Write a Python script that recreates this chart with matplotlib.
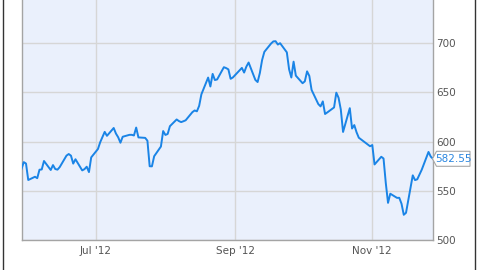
import matplotlib
matplotlib.use("Agg")
import matplotlib.pyplot as plt
import matplotlib.dates as mdates
import pandas as pd
from matplotlib.lines import Line2D
from matplotlib.patches import Polygon

# daily closes
dates = [
    "2012-05-29", "2012-05-30", "2012-05-31", "2012-06-01", "2012-06-04", "2012-06-05",
    "2012-06-06", "2012-06-07", "2012-06-08", "2012-06-11", "2012-06-12", "2012-06-13",
    "2012-06-14", "2012-06-15", "2012-06-18", "2012-06-19", "2012-06-20", "2012-06-21",
    "2012-06-22", "2012-06-25", "2012-06-26", "2012-06-27", "2012-06-28", "2012-06-29",
    "2012-07-02", "2012-07-03", "2012-07-05", "2012-07-06", "2012-07-09", "2012-07-10",
    "2012-07-11", "2012-07-12", "2012-07-13", "2012-07-16", "2012-07-17", "2012-07-18",
    "2012-07-19", "2012-07-20", "2012-07-23", "2012-07-24", "2012-07-25", "2012-07-26",
    "2012-07-27", "2012-07-30", "2012-07-31", "2012-08-01", "2012-08-02", "2012-08-03",
    "2012-08-06", "2012-08-07", "2012-08-08", "2012-08-09", "2012-08-10", "2012-08-13",
    "2012-08-14", "2012-08-15", "2012-08-16", "2012-08-17", "2012-08-20", "2012-08-21",
    "2012-08-22", "2012-08-23", "2012-08-24", "2012-08-27", "2012-08-28", "2012-08-29",
    "2012-08-30", "2012-08-31", "2012-09-04", "2012-09-05", "2012-09-06", "2012-09-07",
    "2012-09-10", "2012-09-11", "2012-09-12", "2012-09-13", "2012-09-14", "2012-09-17",
    "2012-09-18", "2012-09-19", "2012-09-20", "2012-09-21", "2012-09-24", "2012-09-25",
    "2012-09-26", "2012-09-27", "2012-09-28", "2012-10-01", "2012-10-02", "2012-10-03",
    "2012-10-04", "2012-10-05", "2012-10-08", "2012-10-09", "2012-10-10", "2012-10-11",
    "2012-10-12", "2012-10-15", "2012-10-16", "2012-10-17", "2012-10-18", "2012-10-19",
    "2012-10-22", "2012-10-23", "2012-10-24", "2012-10-25", "2012-10-26", "2012-10-31",
    "2012-11-01", "2012-11-02", "2012-11-05", "2012-11-06", "2012-11-07", "2012-11-08",
    "2012-11-09", "2012-11-12", "2012-11-13", "2012-11-14", "2012-11-15", "2012-11-16",
    "2012-11-19", "2012-11-20", "2012-11-21", "2012-11-23", "2012-11-26", "2012-11-27",
    "2012-11-28",
]
closes = [
    572.27, 579.17, 577.73, 560.99, 564.29, 562.83,
    571.46, 571.72, 580.32, 571.17, 576.16, 572.16,
    571.53, 574.13, 585.78, 587.41, 585.74, 577.67,
    582.10, 570.77, 572.02, 574.50, 569.05, 584.00,
    592.52, 599.41, 609.94, 605.88, 613.89, 608.21,
    604.43, 598.90, 604.97, 606.91, 606.94, 606.26,
    614.32, 604.30, 603.83, 600.92, 574.97, 574.88,
    585.16, 595.03, 610.76, 606.81, 607.79, 615.70,
    622.55, 620.91, 619.86, 620.73, 621.70, 630.00,
    631.69, 630.83, 636.34, 648.11, 665.15, 656.06,
    668.87, 662.63, 663.22, 675.68, 674.80, 673.47,
    663.87, 665.24, 674.97, 670.23, 676.27, 680.44,
    662.74, 660.59, 669.79, 682.98, 691.28, 699.78,
    701.91, 702.10, 698.70, 700.09, 690.79, 673.54,
    665.18, 681.32, 667.10, 659.39, 661.31, 671.45,
    666.80, 652.59, 638.17, 635.85, 640.91, 628.10,
    629.71, 634.76, 649.79, 644.61, 632.64, 609.84,
    634.03, 613.36, 616.83, 609.54, 604.00, 595.32,
    596.54, 576.80, 584.62, 582.85, 558.00, 537.75,
    547.06, 542.83, 542.90, 536.88, 525.62, 527.68,
    565.73, 560.91, 561.70, 571.50, 589.53, 584.78,
    582.55,
]

x_tick_dates = ["2012-07-01", "2012-09-01", "2012-11-01"]
x_tick_labels = ["Jul '12", "Sep '12", "Nov '12"]
y_ticks = [500, 550, 600, 650, 700]

LINE = "#1a84e6"
GRID = "#d6d6d6"
TEXT = "#555555"

plt.rcParams["font.family"] = "DejaVu Sans"

x = pd.to_datetime(dates)
fig = plt.figure(figsize=(4.8, 2.7), dpi=100)
ax = fig.add_axes([21.5 / 480, 30 / 270, 411.5 / 480, 240 / 270])
ax.set_facecolor("#eaf0fc")

ax.plot(x, closes, color=LINE, lw=1.4, zorder=3, solid_joinstyle="round")

ax.set_xlim(x[0], x[-1])
ax.set_ylim(500, 744)
ax.set_xticks(pd.to_datetime(x_tick_dates))
ax.set_xticklabels(x_tick_labels)
ax.set_yticks(y_ticks)
ax.yaxis.tick_right()
ax.tick_params(axis="both", length=0, labelsize=7.5, labelcolor=TEXT)
ax.tick_params(axis="x", pad=4.5)
ax.tick_params(axis="y", pad=2.5)
ax.grid(True, color=GRID, lw=1.0, zorder=1)
ax.set_axisbelow(True)

ax.spines["top"].set_visible(False)
for side in ["left", "bottom", "right"]:
    ax.spines[side].set_color("#a4a4a4")
    ax.spines[side].set_linewidth(1.0)

# widget border lines
for xf in [2.5 / 480, 475 / 480]:
    fig.add_artist(Line2D([xf, xf], [0, 1], transform=fig.transFigure,
                          color="#333333", lw=1.0))

# last price tag
last = closes[-1]
px, py = ax.transData.transform((mdates.date2num(x[-1]), last))
half = 7.5
tag = Polygon(
    [(px - 0.5, py), (px + 3.5, py + half), (px + 37, py + half),
     (px + 37, py - half), (px + 3.5, py - half)],
    closed=True, transform=None, facecolor="white",
    edgecolor="#a8a8a8", lw=0.8, zorder=10,
)
fig.add_artist(tag)
fig.text((px + 20.5) / 480, py / 270, f"{last:.2f}", color="#2a86e0",
         fontsize=7.5, ha="center", va="center", zorder=11)

fig.savefig("out.png", dpi=100)
